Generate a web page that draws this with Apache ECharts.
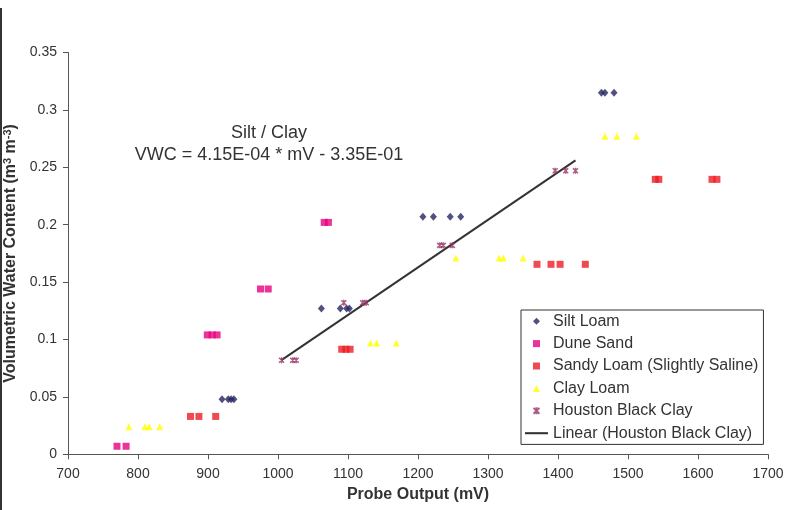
<!DOCTYPE html>
<html>
<head>
<meta charset="utf-8">
<script src="https://cdn.jsdelivr.net/npm/echarts@6/dist/echarts.min.js"></script>
<style>
html,body{margin:0;padding:0;background:#fff;}
#c{width:786px;height:510px;}
</style>
</head>
<body>
<div id="c"></div>
<script>
// ---- data ----
const siltLoamX = [920, 929, 933, 937, 1062, 1089, 1098, 1102, 1207, 1222, 1246, 1261, 1462, 1467, 1480];
const siltLoamY = [0.048, 0.048, 0.048, 0.048, 0.127, 0.127, 0.127, 0.127, 0.207, 0.207, 0.207, 0.207, 0.315, 0.315, 0.315];

const duneSandX = [770, 783, 899, 906, 913, 975, 986, 1066, 1072];
const duneSandY = [0.007, 0.007, 0.104, 0.104, 0.104, 0.144, 0.144, 0.202, 0.202];

const sandyLoamX = [875, 887, 911, 1091, 1097, 1103, 1370, 1390, 1403, 1439, 1539, 1544, 1620, 1627];
const sandyLoamY = [0.033, 0.033, 0.033, 0.0915, 0.0915, 0.0915, 0.1655, 0.1655, 0.1655, 0.1655, 0.2395, 0.2395, 0.2395, 0.2395];

const clayLoamX = [787, 810, 816, 831, 1132, 1141, 1169, 1254, 1316, 1322, 1350, 1467, 1484, 1512];
const clayLoamY = [0.024, 0.024, 0.024, 0.024, 0.097, 0.097, 0.097, 0.171, 0.171, 0.171, 0.171, 0.277, 0.277, 0.277];

const houstonX = [1005, 1021, 1026, 1094, 1121, 1126, 1231, 1236, 1249, 1396, 1411, 1425];
const houstonY = [0.082, 0.082, 0.082, 0.132, 0.132, 0.132, 0.182, 0.182, 0.182, 0.247, 0.247, 0.247];

const trendX = [1005, 1425];
const trendY = [0.082, 0.256];

const seriesNames = ['Silt Loam', 'Dune Sand', 'Sandy Loam (Slightly Saline)', 'Clay Loam', 'Houston Black Clay', 'Linear (Houston Black Clay)'];
const annotationLines = ['Silt / Clay', 'VWC = 4.15E-04 * mV - 3.35E-01'];
const xAxisTitle = 'Probe Output (mV)';
const yAxisTitle = 'Volumetric Water Content (m{sup|3} m{sup|-3})';

// ---- chart ----
const zip = (xs, ys) => xs.map((x, i) => [x, ys[i]]);
const FONT = '"Liberation Sans", Arial, sans-serif';
const asterisk = 'path://M0,0L10,10M10,0L0,10M5,-1L5,11';
const diamondIcon = 'path://M5,0L10,5L5,10L0,5Z';
const squareIcon = 'path://M0,0L10,0L10,10L0,10Z';
const triangleIcon = 'path://M5,0L10,10L0,10Z';
const lineIcon = 'path://M0,0L100,0L100,9L0,9Z';

const chart = echarts.init(document.getElementById('c'), null, {renderer: 'canvas'});
chart.setOption({
  backgroundColor: '#fff',
  animation: false,
  textStyle: {fontFamily: FONT},
  grid: {left: 68, right: 18, top: 52.5, bottom: 55.7, containLabel: false, outerBoundsMode: 'none'},
  xAxis: {
    type: 'value', min: 700, max: 1700, interval: 100,
    name: xAxisTitle, nameLocation: 'middle', nameGap: 32,
    nameTextStyle: {fontSize: 16, fontWeight: 'bold', color: '#333', fontFamily: FONT},
    axisLine: {show: true, lineStyle: {color: '#555', width: 1}},
    axisTick: {show: true, length: 5, lineStyle: {color: '#555'}},
    axisLabel: {fontSize: 14, color: '#333', margin: 13, fontFamily: FONT,
      formatter: v => String(v)},
    splitLine: {show: false}
  },
  yAxis: {
    type: 'value', min: 0, max: 0.35, interval: 0.05,
    name: yAxisTitle, nameLocation: 'middle', nameGap: 32, nameRotate: 90,
    nameTextStyle: {
      fontSize: 16, fontWeight: 'bold', color: '#333', fontFamily: FONT,
      rich: {sup: {fontSize: 11, fontWeight: 'bold', color: '#333', verticalAlign: 'top', fontFamily: FONT}}
    },
    axisLine: {show: true, lineStyle: {color: '#555', width: 1}},
    axisTick: {show: true, length: 5, lineStyle: {color: '#555'}},
    axisLabel: {fontSize: 14, color: '#333', margin: 11, fontFamily: FONT,
      formatter: v => String(+v.toFixed(2))},
    splitLine: {show: false}
  },
  legend: {
    orient: 'vertical', left: 521, top: 310,
    padding: [0, 5, 0, 4],
    itemWidth: 23, itemHeight: 7, itemGap: 0,
    symbolKeepAspect: true,
    borderColor: '#333', borderWidth: 1, backgroundColor: '#fff',
    textStyle: {fontSize: 16, color: '#333', lineHeight: 22.4, fontFamily: FONT},
    data: [
      {name: seriesNames[0], icon: diamondIcon},
      {name: seriesNames[1], icon: squareIcon},
      {name: seriesNames[2], icon: squareIcon},
      {name: seriesNames[3], icon: triangleIcon},
      {name: seriesNames[4], icon: asterisk},
      {name: seriesNames[5], icon: lineIcon, itemStyle: {color: '#333'}}
    ]
  },
  graphic: [
    {type: 'rect', left: 0, top: 8, shape: {width: 2, height: 502}, style: {fill: '#333'}, silent: true},
    {type: 'text', x: 269, y: 144, style: {
      text: annotationLines.join('\n'), fill: '#333', font: '18px ' + FONT,
      textAlign: 'center', textVerticalAlign: 'middle', lineHeight: 22
    }, silent: true}
  ],
  series: [
    {name: seriesNames[0], type: 'scatter', symbol: 'diamond', symbolSize: [7, 8], symbolKeepAspect: true,
      itemStyle: {color: '#262660'}, data: zip(siltLoamX, siltLoamY)},
    {name: seriesNames[1], type: 'scatter', symbol: 'rect', symbolSize: [7, 7], symbolKeepAspect: true,
      itemStyle: {color: '#e6007e'}, data: zip(duneSandX, duneSandY)},
    {name: seriesNames[2], type: 'scatter', symbol: 'rect', symbolSize: [7, 7], symbolKeepAspect: true,
      itemStyle: {color: '#ed1c24'}, data: zip(sandyLoamX, sandyLoamY)},
    {name: seriesNames[3], type: 'scatter', symbol: 'triangle', symbolSize: [7, 7], symbolKeepAspect: true,
      itemStyle: {color: '#ffff00'}, data: zip(clayLoamX, clayLoamY)},
    {name: seriesNames[4], type: 'scatter', symbol: asterisk, symbolSize: [6, 6], symbolKeepAspect: true,
      itemStyle: {color: 'rgba(0,0,0,0)', borderColor: '#993366', borderWidth: 1.5},
      data: zip(houstonX, houstonY)},
    {name: seriesNames[5], type: 'line', symbol: 'none', showSymbol: false,
      lineStyle: {color: '#333', width: 2}, itemStyle: {color: '#333'},
      data: zip(trendX, trendY), z: 1}
  ]
});
</script>
</body>
</html>
